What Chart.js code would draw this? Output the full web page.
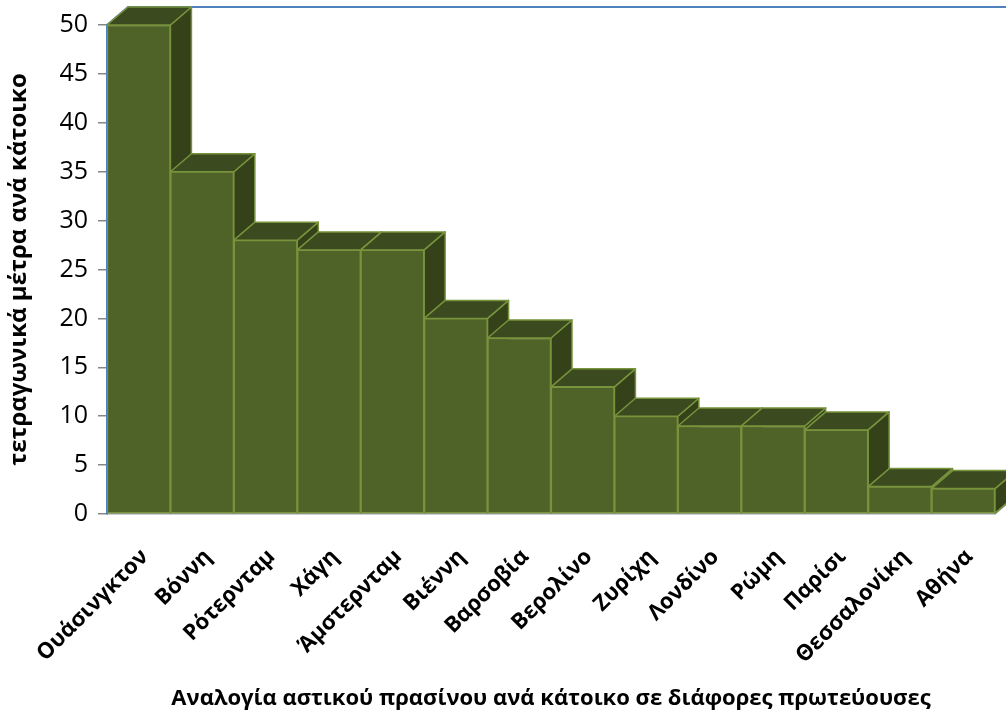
<!DOCTYPE html>
<html>
<head>
<meta charset="utf-8">
<script src="https://cdn.jsdelivr.net/npm/chart.js@4.4.1/dist/chart.umd.min.js"></script>
<style>
  html, body { margin: 0; padding: 0; background: #ffffff; }
  #wrap { width: 1006px; height: 720px; }
</style>
</head>
<body>
<div id="wrap"><canvas id="chart" width="1006" height="720"></canvas></div>
<script>
// Urban green space per resident (m²) in several cities
const cities = [
  'Ουάσινγκτον', 'Βόννη', 'Ρότερνταμ', 'Χάγη', 'Άμστερνταμ', 'Βιέννη', 'Βαρσοβία',
  'Βερολίνο', 'Ζυρίχη', 'Λονδίνο', 'Ρώμη', 'Παρίσι', 'Θεσσαλονίκη', 'Αθήνα'
];
const greenPerResident = [50, 35, 28, 27, 27, 20, 18, 13, 10, 9, 9, 8.6, 2.8, 2.6];
const yTickValues = [0, 5, 10, 15, 20, 25, 30, 35, 40, 45, 50];
const yAxisTitle = 'τετραγωνικά μέτρα ανά κάτοικο';
const xAxisTitle = 'Αναλογία αστικού πρασίνου ανά κάτοικο σε διάφορες πρωτεύουσες';

// Look of the extruded columns
const FRONT = '#4F6228';
const SIDE = '#344119';
const TOP = '#3C4B1F';
const EDGE = '#77933C';
const DEPTH_X = 21;
const DEPTH_Y = 18;

// Draws the back wall outline and the depth faces (side + top) of every column;
// the front faces are then painted by Chart.js itself on top.
const extrudedBars = {
  id: 'extrudedBars',
  beforeDatasetsDraw(chart) {
    const ctx = chart.ctx;
    const a = chart.chartArea;
    ctx.save();
    // back wall edges
    ctx.strokeStyle = '#4F81BD';
    ctx.lineWidth = 2;
    ctx.beginPath();
    ctx.moveTo(a.left, a.top);
    ctx.lineTo(a.left + DEPTH_X, a.top - DEPTH_Y);
    ctx.lineTo(chart.width, a.top - DEPTH_Y);
    ctx.stroke();
    // floor edge on the right
    ctx.strokeStyle = '#9A9A9A';
    ctx.lineWidth = 1.5;
    ctx.beginPath();
    ctx.moveTo(a.right, a.bottom);
    ctx.lineTo(a.right + DEPTH_X, a.bottom - DEPTH_Y);
    ctx.stroke();

    const meta = chart.getDatasetMeta(0);
    ctx.lineWidth = 1.5;
    ctx.strokeStyle = EDGE;
    ctx.lineJoin = 'round';
    meta.data.forEach((bar) => {
      const { x, y, base, width } = bar.getProps(['x', 'y', 'base', 'width'], true);
      const L = x - width / 2;
      const R = x + width / 2;
      // side face
      ctx.beginPath();
      ctx.moveTo(R, y);
      ctx.lineTo(R + DEPTH_X, y - DEPTH_Y);
      ctx.lineTo(R + DEPTH_X, base - DEPTH_Y);
      ctx.lineTo(R, base);
      ctx.closePath();
      ctx.fillStyle = SIDE;
      ctx.fill();
      ctx.stroke();
      // top face
      ctx.beginPath();
      ctx.moveTo(L, y);
      ctx.lineTo(R, y);
      ctx.lineTo(R + DEPTH_X, y - DEPTH_Y);
      ctx.lineTo(L + DEPTH_X, y - DEPTH_Y);
      ctx.closePath();
      ctx.fillStyle = TOP;
      ctx.fill();
      ctx.stroke();
    });
    ctx.restore();
  }
};

const FAMILY = '"Open Sans", "Noto Sans", sans-serif';

new Chart(document.getElementById('chart'), {
  type: 'bar',
  data: {
    labels: cities,
    datasets: [{
      data: greenPerResident,
      backgroundColor: FRONT,
      borderColor: EDGE,
      borderWidth: 1.5,
      borderSkipped: false,
      categoryPercentage: 1.0,
      barPercentage: 1.0
    }]
  },
  options: {
    responsive: false,
    animation: false,
    devicePixelRatio: 1,
    layout: { padding: { top: 25, right: 11, left: 0, bottom: 0 } },
    plugins: { legend: { display: false }, tooltip: { enabled: false } },
    scales: {
      x: {
        grid: { display: false },
        border: { display: true, color: '#9A9A9A', width: 1.5 },
        ticks: {
          color: '#000000',
          font: { family: FAMILY, size: 22, weight: 'bold' },
          maxRotation: 45,
          minRotation: 45,
          autoSkip: false,
          padding: 22,
          labelOffset: 6
        },
        title: {
          display: true,
          text: xAxisTitle,
          color: '#000000',
          font: { family: FAMILY, size: 22, weight: 'bold' },
          padding: { top: 0, bottom: 8 }
        },
        afterFit(scale) { scale.height = 206; }
      },
      y: {
        min: 0,
        max: 50,
        afterBuildTicks(scale) { scale.ticks = yTickValues.map(v => ({ value: v })); },
        grid: {
          drawOnChartArea: false,
          drawTicks: true,
          tickLength: 9,
          color: '#868686',
          lineWidth: 1.5
        },
        border: { display: true, color: '#4F81BD', width: 2 },
        ticks: {
          color: '#000000',
          font: { family: FAMILY, size: 25 },
          padding: 10
        },
        title: {
          display: true,
          text: yAxisTitle,
          color: '#000000',
          font: { family: FAMILY, size: 24, weight: 'bold' },
          padding: { top: 5, bottom: 0 }
        },
        afterFit(scale) { scale.width = 107; }
      }
    }
  },
  plugins: [extrudedBars]
});
</script>
</body>
</html>
